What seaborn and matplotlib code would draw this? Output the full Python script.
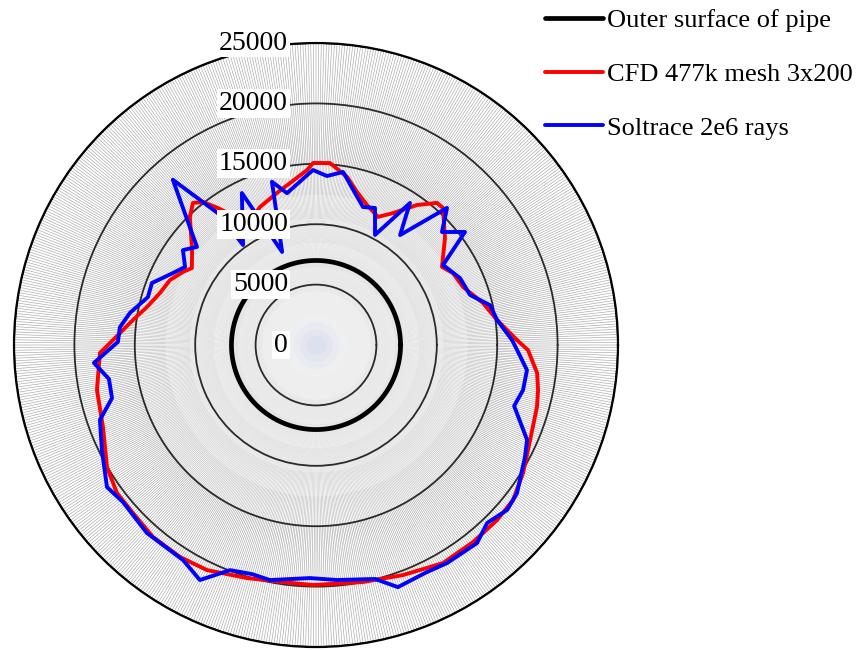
import numpy as np
import pandas as pd
import matplotlib
matplotlib.use("Agg")
import matplotlib.pyplot as plt
from matplotlib.transforms import offset_copy
import seaborn as sns

# ---------------- data ----------------
r_ticks = [0, 5000, 10000, 15000, 20000, 25000]
r_tick_labels = ["0", "5000", "10000", "15000", "20000", "25000"]

pipe_radius = 7000

cfd_angle_deg = [1.4, 3.5, 7.9, 14.1, 21.5, 27.7, 31.8, 39.7, 47.2, 49.6, 54.2, 59.7,
                 64.2, 70.0, 75.0, 79.5, 85.6, 90.9, 92.9, 99.1, 104.4, 112.1, 119.0,
                 125.6, 128.3, 130.9, 134.6, 142.5, 148.2, 151.2, 156.0, 161.6, 167.3,
                 172.2, 178.6, 182.1, 191.6, 201.1, 210.3, 216.6, 222.6, 229.7, 237.3,
                 244.2, 253.5, 264.5, 269.3, 281.2, 290.7, 300.2, 308.6, 316.0, 321.8,
                 328.3, 336.1, 344.3, 348.5, 352.8, 358.6, 361.4]
cfd_flux = [16650, 16100, 15130, 14260, 13090, 12810, 12270, 13880, 15470, 15450, 14290, 12650,
            11780, 12340, 13120, 14150, 15110, 15070, 14510, 13580, 13000, 12330, 11500,
            13950, 15090, 15560, 14870, 12930, 12090, 12560, 13230, 13620, 14340,
            15290, 16810, 17900, 18510, 18900, 20040, 20530, 20570, 20850, 20850,
            20700, 20120, 19800, 19870, 20000, 20360, 20890, 20860, 20850, 20760,
            20150, 19390, 19000, 18760, 18450, 17560, 16650]

sol_angle_deg = [1.5, 7.9, 12.9, 18.0, 24.9, 32.2, 37.2, 41.9, 46.3, 52.6, 56.5, 61.8,
                 66.7, 71.2, 81.1, 86.3, 91.0, 100.8, 105.1, 110.0, 116.0, 126.1, 126.4,
                 130.9, 140.5, 144.5, 149.2, 153.3, 159.3, 164.1, 170.2, 174.8, 179.1,
                 184.6, 189.3, 194.6, 199.1, 206.1, 214.2, 219.1, 228.0, 238.3, 243.7,
                 249.1, 254.4, 258.9, 268.5, 275.1, 284.2, 288.7, 295.6, 301.0, 309.1,
                 313.9, 319.2, 323.6, 331.8, 335.8, 342.9, 347.7, 353.2, 358.6, 361.5]
sol_flux = [16230, 15130, 14780, 13410, 13150, 12430, 15480, 14010, 15700, 11460, 14100, 10340,
            12350, 12070, 14500, 14020, 14490, 12800, 14000, 8200, 14000, 10250, 13400,
            18100, 12770, 13530, 12620, 13260, 14520, 14470, 15630, 16300, 16400,
            18440, 17370, 17450, 18930, 19740, 20920, 20600, 20930, 20930, 21700,
            19950, 19690, 19830, 19300, 19530, 19980, 21160, 20920, 21060, 21130,
            20440, 20900, 20670, 19630, 19160, 17160, 17540, 17590, 16650, 16230]

legend_labels = ["Outer surface of pipe", "CFD 477k mesh 3x200", "Soltrace 2e6 rays"]
spoke_step_deg = 0.5

# ---------------- style ----------------
sns.set_theme(style="white")
plt.rcParams["font.family"] = ["Liberation Serif", "DejaVu Serif"]
plt.rcParams["text.color"] = "black"

fig = plt.figure(figsize=(8.61, 6.5), dpi=100)
ax = fig.add_axes([0.01626, 0.0046, 0.7015, 0.9292], projection="polar")
ax.set_facecolor("white")
ax.set_ylim(0, r_ticks[-1])

# dense radial spokes (single path)
sp = np.deg2rad(np.arange(0, 360, spoke_step_deg))
sp_t = np.column_stack([sp, sp, np.full_like(sp, np.nan)]).ravel()
sp_r = np.tile([0, r_ticks[-1], np.nan], len(sp))
ax.plot(sp_t, sp_r, color="#8a8a8a", lw=0.45, alpha=0.75, zorder=0.1)

# whitish fade toward center
full = np.linspace(0, 2 * np.pi, 361)
for rr in [2500, 4500, 6500, 8500, 10500, 12500, 15000]:
    ax.fill_between(full, 0, rr, color="white", alpha=0.25, lw=0, zorder=0.2)
# faint blue blob at center
for s, a in [(1800, 0.06), (1100, 0.09), (550, 0.12), (200, 0.15)]:
    ax.scatter([0], [0], s=s, color="#b9c6ee", alpha=a, lw=0, zorder=0.3)

# radial gridlines
ax.set_yticks(r_ticks)
ax.set_yticklabels([])
ax.set_xticks([])
ax.yaxis.grid(True, color="#2a2a2a", lw=1.3, zorder=1)
ax.xaxis.grid(False)
ax.spines["polar"].set_color("black")
ax.spines["polar"].set_linewidth(1.6)

# pipe surface
pipe_df = pd.DataFrame({"theta": full, "r": np.full_like(full, pipe_radius)})
sns.lineplot(data=pipe_df, x="theta", y="r", ax=ax, sort=False, color="black",
             lw=3.4, label=legend_labels[0], zorder=3)

cfd_df = pd.DataFrame({"theta": np.deg2rad(cfd_angle_deg), "r": cfd_flux})
sns.lineplot(data=cfd_df, x="theta", y="r", ax=ax, sort=False, color="#ff0000",
             lw=2.8, label=legend_labels[1], zorder=4)

sol_df = pd.DataFrame({"theta": np.deg2rad(sol_angle_deg), "r": sol_flux})
sns.lineplot(data=sol_df, x="theta", y="r", ax=ax, sort=False, color="#0000ff",
             lw=2.8, label=legend_labels[2], zorder=5)

ax.set_xlabel("")
ax.set_ylabel("")

# radial tick labels, to the left of the vertical spoke
trans = offset_copy(ax.transData, fig=fig, x=-28, y=0, units="dots")
for v, lab in zip(r_ticks, r_tick_labels):
    ax.text(np.pi / 2, v, lab, transform=trans, ha="right", va="center",
            fontsize=20, color="black", zorder=10,
            bbox=dict(facecolor="white", edgecolor="none", pad=1.5))

handles, labels = ax.get_legend_handles_labels()
ax.get_legend().remove()
leg = fig.legend(handles, labels, loc="upper left", bbox_to_anchor=(0.6335, 0.987),
                 frameon=False, fontsize=19, handlelength=2.2, handletextpad=0.15,
                 labelspacing=1.15, borderpad=0.0, borderaxespad=0.0)
for t in leg.get_texts():
    t.set_color("black")

fig.savefig("out.png", dpi=100, facecolor="white")
